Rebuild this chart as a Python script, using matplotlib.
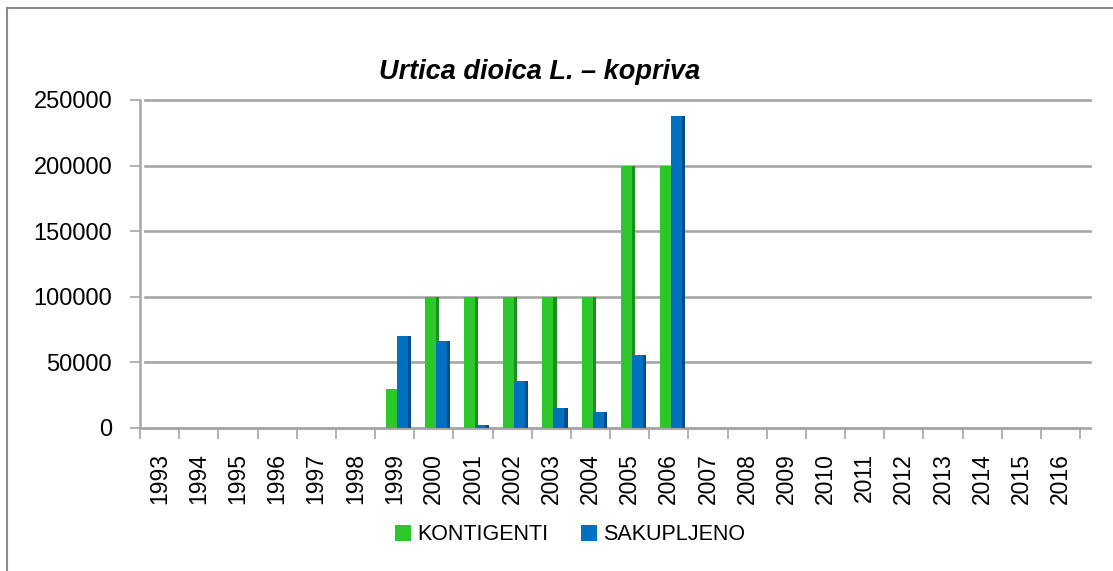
import numpy as np
import matplotlib
matplotlib.use("Agg")
import matplotlib.pyplot as plt
from matplotlib.lines import Line2D
from matplotlib.patches import Patch

years = [str(y) for y in range(1993, 2017)]
kontigenti = [0, 0, 0, 0, 0, 0, 30000, 100000, 100000, 100000, 100000, 100000,
              200000, 200000, 0, 0, 0, 0, 0, 0, 0, 0, 0, 0]
sakupljeno = [0, 0, 0, 0, 0, 0, 70000, 66000, 2000, 36000, 15000, 12000,
              56000, 238000, 0, 0, 0, 0, 0, 0, 0, 0, 0, 0]

GREEN = "#2DC62D"
GREEN_SIDE = "#1E8F1E"
BLUE = "#0070C0"
BLUE_SIDE = "#004F8C"
GRID = "#A6A6A6"

plt.rcParams["font.family"] = ["Liberation Sans", "DejaVu Sans"]

W, H = 1113, 571
fig = plt.figure(figsize=(W / 100, H / 100), dpi=100)
ax = fig.add_axes([140 / W, 1 - 428 / H, 940 / W, 328 / H])

x = np.arange(len(years))
bw = 0.28
side = 0.08
k = np.array(kontigenti)
s = np.array(sakupljeno)
show_k = k > 0
show_s = s > 0

# green bars with darker side face
ax.bar(x[show_k] - 0.225, k[show_k], width=bw, align="edge", color=GREEN, zorder=3)
ax.bar(x[show_k] - 0.225 + bw, k[show_k], width=side, align="edge", color=GREEN_SIDE, zorder=3)
# blue bars in front
ax.bar(x[show_s] + 0.055, s[show_s], width=bw, align="edge", color=BLUE, zorder=4)
ax.bar(x[show_s] + 0.055 + bw, s[show_s], width=side, align="edge", color=BLUE_SIDE, zorder=4)

ax.set_xlim(-0.5, len(years) - 0.5)
ax.set_ylim(0, 250000)
ax.set_yticks(range(0, 250001, 50000))
ax.set_yticklabels([str(v) for v in range(0, 250001, 50000)], fontsize=17)

for v in range(0, 250001, 50000):
    ax.axhline(v, xmin=0.005, xmax=1.0106, color=GRID, lw=1.9, zorder=1, clip_on=False)

ax.set_xticks(x)
ax.set_xticklabels(years, rotation=90, fontsize=16.5)
ax.set_xticks(np.arange(len(years) + 1) - 0.5, minor=True)
ax.tick_params(axis="x", which="major", length=0, pad=18)
ax.tick_params(axis="x", which="minor", length=8, color=GRID, width=1.2, direction="out")
ax.tick_params(axis="y", length=7, color=GRID, width=1.2, direction="out", pad=13)

for sp in ["top", "right"]:
    ax.spines[sp].set_visible(False)
ax.spines["left"].set_color(GRID)
ax.spines["left"].set_linewidth(1.8)
ax.spines["bottom"].set_color(GRID)
ax.spines["bottom"].set_linewidth(1.8)

fig.text(540 / W, 1 - 72 / H, "Urtica dioica L. – kopriva", ha="center", va="center",
         fontsize=19.5, fontweight="bold", fontstyle="italic")

handles = [Patch(facecolor=GREEN, label="KONTIGENTI"),
           Patch(facecolor=BLUE, label="SAKUPLJENO")]
fig.legend(handles=handles, loc="center", bbox_to_anchor=(570 / W, 1 - 535 / H), ncol=2,
           frameon=False, fontsize=15.5, handlelength=0.75, handleheight=0.75,
           handletextpad=0.3, columnspacing=1.5)

# outer chart border
fig.add_artist(Line2D([7 / W, 1.0], [1 - 8 / H, 1 - 8 / H], color="#8C8C8C", lw=1.5,
                      transform=fig.transFigure))
fig.add_artist(Line2D([7 / W, 7 / W], [1 - 8 / H, 0.0], color="#8C8C8C", lw=1.5,
                      transform=fig.transFigure))

fig.savefig("out.png", dpi=100)
